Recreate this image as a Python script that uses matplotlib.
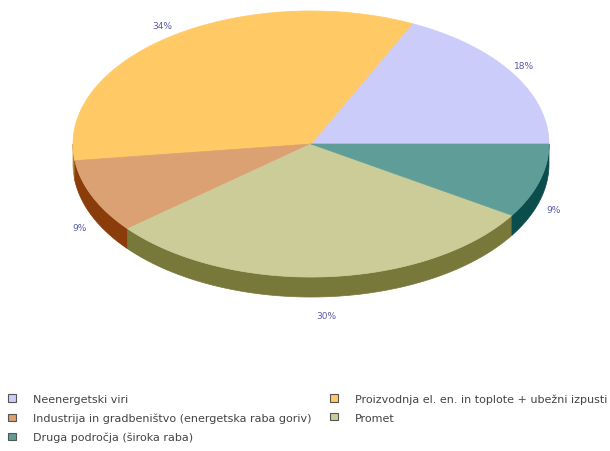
import numpy as np
import matplotlib.pyplot as plt
from matplotlib.patches import Polygon, Patch

# data
labels = ['Neenergetski viri',
          'Proizvodnja el. en. in toplote + ubežni izpusti',
          'Industrija in gradbeništvo (energetska raba goriv)',
          'Promet',
          'Druga področja (široka raba)']
values = [18, 34, 9, 30, 9]
top_colors = ['#CCCCFA', '#FFC966', '#DBA172', '#CCCC99', '#5F9E98']
side_colors = ['#8C8CB8', '#B8862E', '#8A3C0A', '#78783A', '#0B4C4C']

a, b, depth = 1.0, 0.559, 0.084

fig = plt.figure(figsize=(6.1, 4.52), dpi=100)
ax = fig.add_axes([0, 0, 1, 1])
ax.set_xlim(-311 / 238, 299 / 238)
ax.set_ylim(-307 / 238, 145 / 238)
ax.axis('off')

fracs = np.array(values) / sum(values)
edges = np.concatenate([[0], np.cumsum(fracs) * 360])

# side walls (front half only)
for i in range(len(values)):
    t1, t2 = max(edges[i], 180), min(edges[i + 1], 360)
    if t2 <= t1:
        continue
    t = np.radians(np.linspace(t1, t2, 100))
    xs, ys = a * np.cos(t), b * np.sin(t)
    pts = np.vstack([np.column_stack([xs, ys]),
                     np.column_stack([xs[::-1], ys[::-1] - depth])])
    ax.add_patch(Polygon(pts, closed=True, facecolor=side_colors[i],
                         edgecolor=side_colors[i], lw=0.5))

# top faces
for i in range(len(values)):
    t = np.radians(np.linspace(edges[i], edges[i + 1], 200))
    pts = np.vstack([[0, 0], np.column_stack([a * np.cos(t), b * np.sin(t)])])
    ax.add_patch(Polygon(pts, closed=True, facecolor=top_colors[i],
                         edgecolor=top_colors[i], lw=0.5))

# percentage labels
for i, v in enumerate(values):
    m = np.radians((edges[i] + edges[i + 1]) / 2)
    x, y = 1.06 * a * np.cos(m), 1.1 * b * np.sin(m)
    if np.sin(m) < 0:
        y -= depth * 1.25
    ax.text(x, y, f'{v}%', ha='center', va='center', fontsize=6.5,
            color='#5A5AA8')

# legend, row-major order
handles = [Patch(facecolor=c, edgecolor='#555555', lw=0.8) for c in top_colors]
order = [0, 2, 4, 1, 3]
fig.legend([handles[k] for k in order], [labels[k] for k in order],
           loc='upper left', bbox_to_anchor=(4 / 610, 1 - 390 / 452),
           ncol=2, frameon=False, fontsize=8, labelcolor='#444444',
           handlelength=0.65, handleheight=0.65, handletextpad=1.55,
           columnspacing=1.7, labelspacing=0.78, borderaxespad=0)

fig.savefig('out.png', dpi=100)
